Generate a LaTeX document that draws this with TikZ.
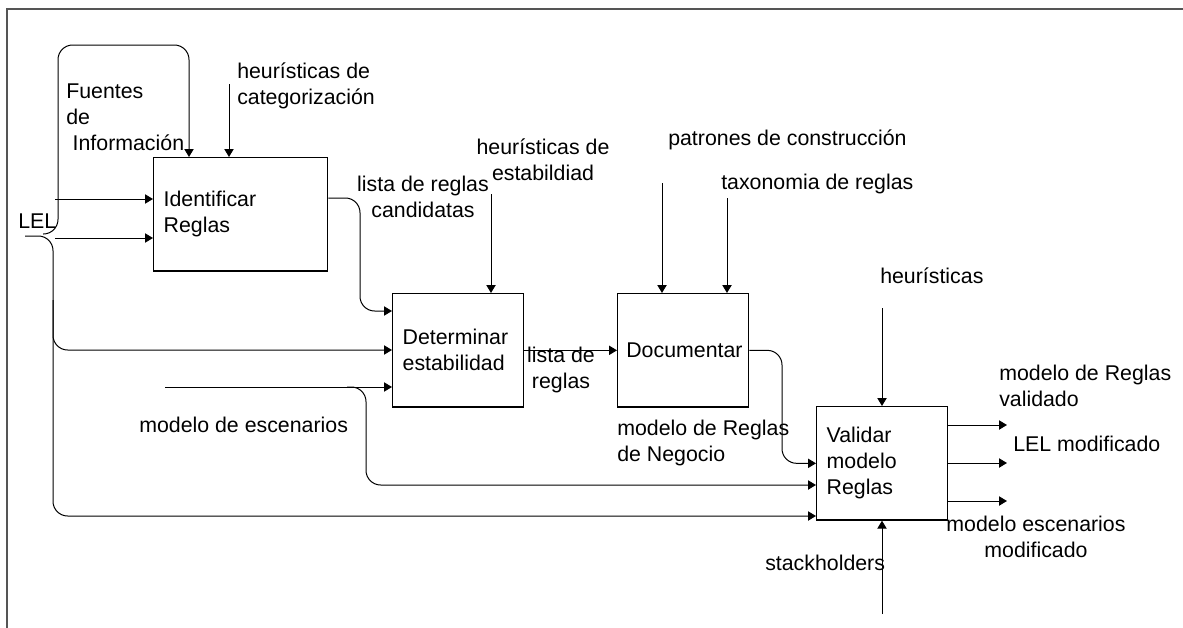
\documentclass[tikz,border=0pt]{standalone}
\usepackage{fontspec}
\setmainfont{Liberation Sans}
\usetikzlibrary{arrows.meta,positioning}

\begin{document}
\begin{tikzpicture}[x=0.75pt,y=0.75pt,yscale=-1,xscale=1,
        caja/.style={draw,line width=1pt,anchor=north west,minimum height=85pt,align=left,inner xsep=7.5pt,inner ysep=0pt,font=\fontsize{16}{19.5}\selectfont},
        flecha/.style={line width=0.75pt,-{Triangle[length=6pt,width=7pt]}},
        curva/.style={flecha,rounded corners=11pt},
        etiq/.style={inner sep=0pt,align=left,font=\fontsize{16}{19.5}\selectfont}]
        \useasboundingbox (0,0) rectangle (1183,628);

        %Marco
        \draw [color={rgb, 255:red, 85; green, 85; blue, 85 },line width=1.5pt] (7,628) -- (7,9) -- (1183,9);

        %Cajas
        \node [caja,text width=115.5pt] (idr) at (153,157) {Identificar\\Reglas};
        \node [caja,text width=83.25pt] (det) at (392,293) {Determinar\\estabilidad};
        \node [caja,text width=85.25pt,inner xsep=6.5pt] (doc) at (617,293) {Documentar};
        \node [caja,text width=83.25pt] (val) at (816,406) {Validar\\modelo\\Reglas};

        %Extremos libres
        \coordinate (lel) at (25,236);
        \coordinate (fte) at (43,234);
        \coordinate (in1) at (55,199);
        \coordinate (in2) at (55,238);
        \coordinate (cat) at (229,84);
        \coordinate (est) at (491,194);
        \coordinate (esc) at (165,387);
        \coordinate (pat) at (662,183);
        \coordinate (tax) at (727,198);
        \coordinate (heu) at (882,308);
        \coordinate (stk) at (882,614);
        \coordinate (out1) at (1007,425);
        \coordinate (out2) at (1007,463);
        \coordinate (out3) at (1007,501);

        %Flechas
        \draw [curva] (lel) -- (53,236) -- (53,516) -- (53,516 -| val.west);
        \draw [curva] (53,300) -- (53,350) -- (53,350 -| det.west);
        \draw [curva] (fte) -- (58,234) -- (58,45) -- (189,45) -- (189,45 |- idr.north);
        \draw [flecha] (in1) -- (in1 -| idr.west);
        \draw [flecha] (in2) -- (in2 -| idr.west);
        \draw [flecha] (cat) -- (cat |- idr.north);
        \draw [curva] (idr.east |- 0,198) -- (360,198) -- (360,311) -- (360,311 -| det.west);
        \draw [flecha] (est) -- (est |- det.north);
        \draw [flecha] (esc) -- (esc -| det.west);
        \draw [curva] (347,387) -- (366,387) -- (366,485) -- (366,485 -| val.west);
        \draw [flecha] (det.east) -- (doc.west);
        \draw [flecha] (pat) -- (pat |- doc.north);
        \draw [flecha] (tax) -- (tax |- doc.north);
        \draw [curva] (doc.east) -- (782,0 |- doc.east) -- (782,0 |- val.west) -- (val.west);
        \draw [flecha] (heu) -- (heu |- val.north);
        \draw [flecha] (stk) -- (stk |- val.south);
        \draw [flecha] (out1 -| val.east) -- (out1);
        \draw [flecha] (out2 -| val.east) -- (out2);
        \draw [flecha] (out3 -| val.east) -- (out3);

        % Text Node
        \node [etiq,anchor=west] (t-fuentes) at (66,117.5) {Fuentes\\de\\\hspace*{0.3em}Información};
        \node [etiq,anchor=west] (t-cat) at (237,86) {heurísticas de\\categorización};
        \node [etiq,anchor=base west] (t-lel) at (18,228) {LEL};
        \node [etiq,align=center] (t-cand) at (423,197) {lista de reglas\\candidatas};
        \node [etiq,align=center] (t-est) at (543,160) {heurísticas de\\estabildiad};
        \node [etiq,anchor=base west] (t-pat) at (668,145) {patrones de construcción};
        \node [etiq,anchor=base west] (t-tax) at (721,189) {taxonomia de reglas};
        \node [etiq,align=center] (t-lista) at (561,370) {lista de\\reglas};
        \node [etiq,anchor=base west] (t-esc) at (139,432) {modelo de escenarios};
        \node [etiq,anchor=west] (t-neg) at (617,443) {modelo de Reglas\\de Negocio};
        \node [etiq,anchor=base west] (t-heu) at (880,283) {heurísticas};
        \node [etiq,anchor=west] (t-valid) at (999,385.5) {modelo de Reglas\\validado};
        \node [etiq,anchor=base west] (t-lelmod) at (1013,451) {LEL modificado};
        \node [etiq,align=center] (t-escmod) at (1036,536.5) {modelo escenarios\\modificado};
        \node [etiq,anchor=base west] (t-stk) at (765,570) {stackholders};
\end{tikzpicture}
\end{document}
